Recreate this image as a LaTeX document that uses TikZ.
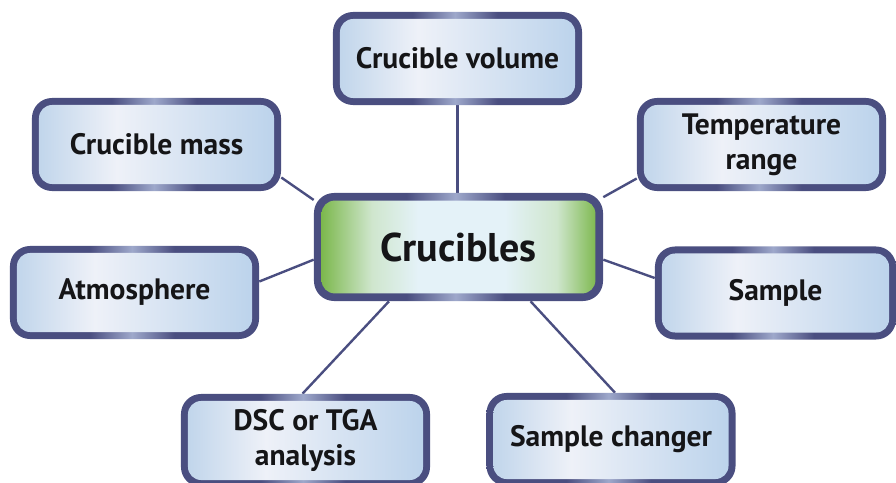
\documentclass[tikz,border=0pt]{standalone}
\usepackage{fontspec}
\setmainfont{PT Sans}
\usetikzlibrary{calc,positioning,backgrounds}
\definecolor{rim}{HTML}{4A4E80}
\definecolor{rimlight}{HTML}{9EA8CB}
\definecolor{cellblue}{HTML}{BDD3EA}
\definecolor{cellwhite}{HTML}{EEF1F8}
\definecolor{cellright}{HTML}{BAD2EB}
\definecolor{hubgreen}{HTML}{70B13A}
\definecolor{hubfade}{HTML}{CFE6CD}
\definecolor{hubpale}{HTML}{E4F2F8}
\definecolor{ink}{HTML}{151517}
\pgfdeclarehorizontalshading{rimshade}{100bp}{color(0bp)=(rim); color(41bp)=(rim);
  color(49.5bp)=(rimlight); color(58bp)=(rim); color(100bp)=(rim)}
\pgfdeclarehorizontalshading{cellshade}{100bp}{color(0bp)=(cellblue); color(25bp)=(cellblue);
  color(42bp)=(cellwhite); color(75bp)=(cellright); color(100bp)=(cellright)}
\pgfdeclarehorizontalshading{hubshade}{100bp}{color(0bp)=(hubgreen); color(25bp)=(hubgreen);
  color(35bp)=(hubfade); color(43bp)=(hubpale); color(58bp)=(hubpale);
  color(67bp)=(hubfade); color(75bp)=(hubgreen); color(100bp)=(hubgreen)}
\newcommand\cellfont{\fontsize{21}{25}\selectfont\bfseries}
\newcommand\hubfont{\fontsize{28.5}{33}\selectfont\bfseries}
\tikzset{
mindmap/.style={x=0.025cm,y=-0.025cm},
cell/.style={rounded corners=0.5cm,minimum width=6.225cm,minimum height=2.325cm,
    inner sep=0pt,shade,shading=rimshade,align=center,text=ink,font=\cellfont,
    path picture={\shade[shading=cellshade,rounded corners=0.33cm]
      ($(path picture bounding box.south west)+(0.175cm,0.175cm)$) rectangle
      ($(path picture bounding box.north east)+(-0.175cm,-0.175cm)$);}},
hub/.style={cell,minimum width=7.225cm,minimum height=2.7cm,font=\hubfont,
    path picture={\shade[shading=hubshade,rounded corners=0.33cm]
      ($(path picture bounding box.south west)+(0.19cm,0.19cm)$) rectangle
      ($(path picture bounding box.north east)+(-0.19cm,-0.19cm)$);}},
link/.style={draw=rim,line width=1.7pt},
}
\begin{document}
\begin{tikzpicture}[mindmap]
    \useasboundingbox (0,0) rectangle (896,482);

    \node[hub] (hub) at (458.5,247) {Crucibles};
    \node[cell] (vol) at (457.5,58.5) {Crucible volume};
    \node[cell] (mass) at (156.5,144.5) {Crucible mass};
    \node[cell] (temp) at (761.5,144.5) {Temperature\\range};
    \node[cell] (atmo) at (134.5,292.5) {Atmosphere};
    \node[cell,minimum width=6.025cm] (sample) at (775.5,293) {Sample};
    \node[cell] (dsc) at (305.5,440.5) {DSC or TGA\\analysis};
    \node[cell] (changer) at (611,439.5) {Sample changer};

    \begin{scope}[on background layer]
    \path[link]
        (vol.south) edge (vol.south |- hub.north)
        ($(mass.east)+(0,33)$) edge (hub.162)
        ($(temp.west)+(0,34)$) edge (hub.19)
        ($(atmo.east)+(0,-11)$) edge (hub.185)
        ($(sample.west)+(0,-15)$) edge (hub.-5)
        ($(dsc.north)+(-3,0)$) edge (hub.218)
        ($(changer.north)+(4,0)$) edge (hub.-37)
    ;
    \end{scope}
\end{tikzpicture}
\end{document}
